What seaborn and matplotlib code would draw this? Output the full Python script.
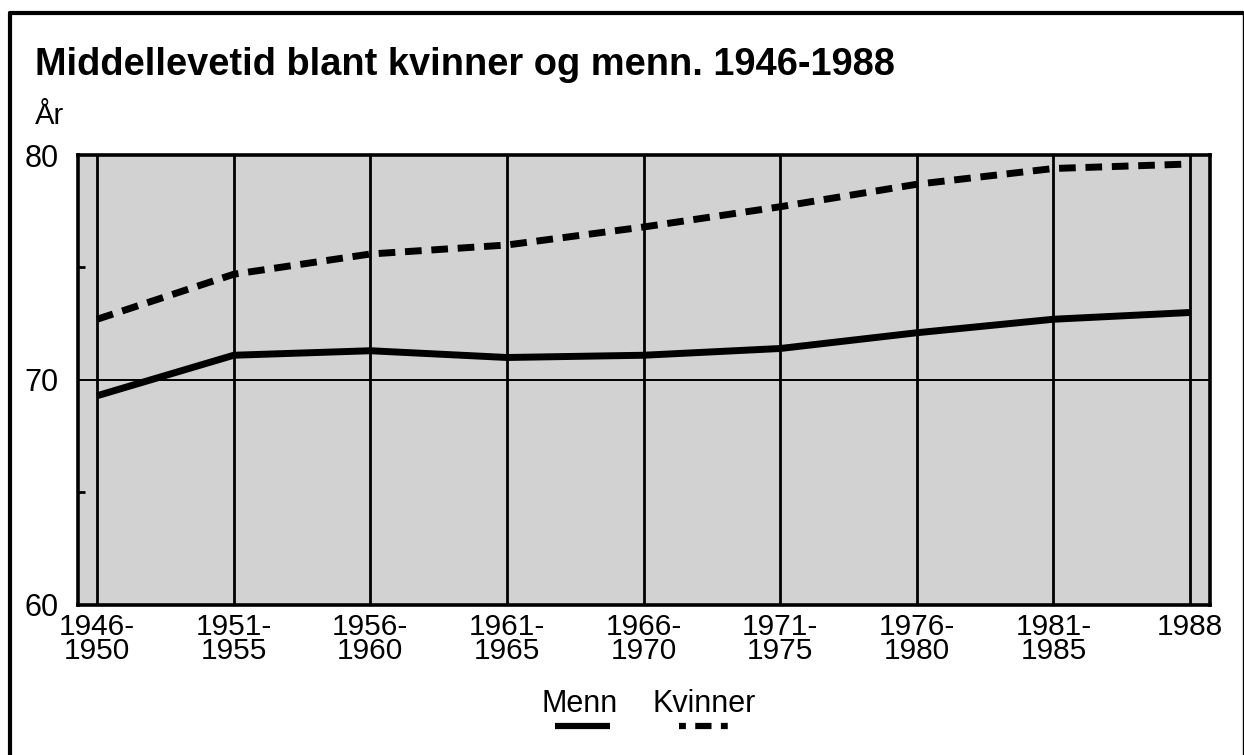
import numpy as np
import pandas as pd
import matplotlib
matplotlib.use("Agg")
import matplotlib.pyplot as plt
from matplotlib.lines import Line2D
import seaborn as sns

# data
periods = ["1946-\n1950", "1951-\n1955", "1956-\n1960", "1961-\n1965", "1966-\n1970",
           "1971-\n1975", "1976-\n1980", "1981-\n1985", "1988"]
menn = [69.3, 71.1, 71.3, 71.0, 71.1, 71.4, 72.1, 72.7, 73.0]
kvinner = [72.7, 74.7, 75.6, 76.0, 76.8, 77.7, 78.7, 79.4, 79.6]
series_names = ["Menn", "Kvinner"]
y_ticks = [60, 70, 80]
y_minor = [65, 75]

sns.set_theme(style="white")
plt.rcParams["font.family"] = ["Liberation Sans", "DejaVu Sans"]
plt.rcParams["text.color"] = "black"
plt.rcParams["xtick.color"] = "black"
plt.rcParams["ytick.color"] = "black"

df = pd.DataFrame({
    "pos": list(range(len(periods))) * 2,
    "value": menn + kvinner,
    "serie": [series_names[0]] * len(menn) + [series_names[1]] * len(kvinner),
})

fig = plt.figure(figsize=(12.44, 7.55), dpi=100)
ax = fig.add_axes([0.0627, 0.1987, 0.91, 0.596])
ax.set_facecolor("#d2d2d2")

# grid: vertical at each period, horizontal only at 70
for i in range(len(periods)):
    ax.axvline(i, color="black", lw=2.0, zorder=1)
ax.axhline(70, color="black", lw=1.4, zorder=1)

sns.lineplot(data=df, x="pos", y="value", hue="serie", style="serie",
             palette={"Menn": "black", "Kvinner": "black"},
             dashes={"Menn": "", "Kvinner": (2.4, 1.4)},
             linewidth=5, legend=False, ax=ax, zorder=3)
for ln in ax.get_lines():
    ln.set_solid_capstyle("butt")
    ln.set_dash_capstyle("butt")

ax.set_xlim(-0.14, len(periods) - 1 + 0.146)
ax.set_ylim(60, 80)
ax.set_xticks(range(len(periods)))
ax.set_xticklabels(periods, fontsize=21.5, linespacing=0.82)
ax.set_yticks(y_ticks)
ax.set_yticklabels([str(v) for v in y_ticks], fontsize=22)
ax.set_yticks(y_minor, minor=True)
ax.tick_params(axis="x", length=0, pad=6)
ax.tick_params(axis="y", which="major", length=0, pad=14)
ax.tick_params(axis="y", which="minor", direction="in", length=5, width=2, left=True)
ax.set_xlabel("")
ax.set_ylabel("")
for s in ax.spines.values():
    s.set_visible(True)
    s.set_color("black")
    s.set_linewidth(2.6)

# titles
fig.text(0.028, 0.901, "Middellevetid blant kvinner og menn. 1946-1988",
         fontsize=27.4, fontweight="bold", va="baseline", ha="left")
fig.text(0.028, 0.836, "År", fontsize=21, va="baseline", ha="left")

# legend with line samples below the names
fig.text(580 / 1244, 1 - 712 / 755, "Menn", fontsize=22, ha="center", va="baseline")
fig.text(704 / 1244, 1 - 712 / 755, "Kvinner", fontsize=22, ha="center", va="baseline")
ly = 1 - 726 / 755
fig.add_artist(Line2D([555 / 1244, 610 / 1244], [ly, ly], color="black", lw=4.5,
                      solid_capstyle="butt", transform=fig.transFigure))
fig.add_artist(Line2D([679 / 1244, 729 / 1244], [ly, ly], color="black", lw=4.5,
                      linestyle=(0, (1.1, 1.5, 2.6, 1.5)), dash_capstyle="butt",
                      transform=fig.transFigure))

# outer frame
fig.add_artist(Line2D([10 / 1244, 10 / 1244], [0, 1 - 13 / 755], color="black", lw=3,
                      transform=fig.transFigure))
fig.add_artist(Line2D([10 / 1244, 1243 / 1244], [1 - 13 / 755, 1 - 13 / 755], color="black",
                      lw=3, transform=fig.transFigure))
fig.add_artist(Line2D([1243 / 1244, 1243 / 1244], [0, 1 - 13 / 755], color="black", lw=1,
                      transform=fig.transFigure))

fig.savefig("out.png", dpi=100)
